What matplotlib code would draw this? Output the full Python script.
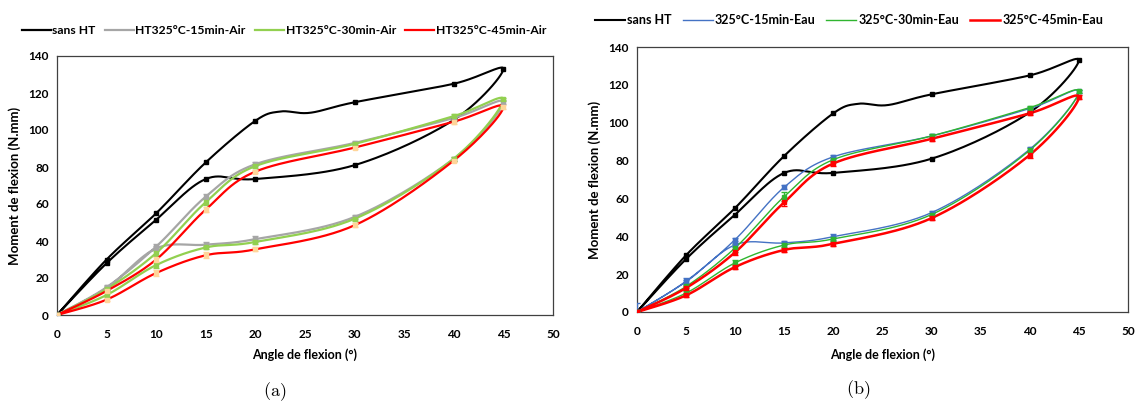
import numpy as np
import matplotlib
matplotlib.use('Agg')
import matplotlib.pyplot as plt
from matplotlib.lines import Line2D

plt.rcParams['font.family'] = ['Lato', 'DejaVu Sans']
plt.rcParams['mathtext.fontset'] = 'cm'

# angles of the loading / unloading cycle (0 -> 45 -> 0)
angles = [0, 5, 10, 15, 20, 30, 40, 45, 40, 30, 20, 15, 10, 5, 0]

# sans HT (same in both panels), with two extra points for the bump after 20°
sans_x = [0, 5, 10, 15, 20, 22.5, 25.5, 30, 40, 45, 40, 30, 20, 15, 10, 5, 0]
sans_y = [0, 30, 55, 82.5, 105, 110, 109.3, 115, 125, 133, 105.5, 81, 73.5, 73.5, 51.5, 28, 0]

# (a) air quench
air_15 = [0, 15, 37, 64, 81.5, 93, 106.5, 115, 84.5, 53, 41, 38, 36, 14.5, 0]
air_30 = [0, 14, 33.5, 61, 80.5, 92.5, 107.5, 116.5, 84.5, 52, 39.5, 36.5, 27, 10.8, 0]
air_45 = [0, 13, 30, 57, 77.5, 90.5, 104.5, 112.5, 83.5, 48.5, 35.5, 32.3, 22.7, 8.3, 0]
air_15_err = [0.5, 1, 1.5, 1.5, 1, 1, 1, 1, 1, 1, 1.5, 1.5, 1.5, 1, 0.5]
air_30_err = [0.5, 1, 1.5, 1.5, 1, 1, 1, 1, 1, 1, 1, 1, 1.5, 1, 0.5]
air_45_err = [0.5, 1, 1.5, 1.5, 1, 1, 1, 1, 1, 1, 1, 1.5, 1.5, 1, 0.5]

# (b) water quench
eau_15 = [0, 16.3, 38.3, 66, 82, 93, 107.5, 116.5, 86, 52.5, 39.8, 36.5, 35.5, 16, 0]
eau_30 = [0, 13.5, 33.9, 61, 80.5, 93, 108, 116.5, 85.5, 51.5, 38.6, 35.4, 26, 10, 0]
eau_45 = [0, 12.7, 31.6, 58, 78.5, 91.5, 105, 113.5, 83, 49.6, 36, 32.8, 23.8, 8.8, 0]
eau_15_err = [5, 1.5, 1, 1.2, 1.2, 1, 1, 1, 1, 1, 1.5, 1.2, 1, 1, 0.5]
eau_30_err = [0.5, 1, 2, 2.2, 1.2, 1, 1, 1, 1, 1, 1, 1, 1.5, 1, 0.5]
eau_45_err = [0.5, 1, 1.5, 2, 1.5, 1, 1, 1, 1.5, 1, 1, 1, 1, 1, 0.5]

labels_a = ['sans HT', 'HT325°C-15min-Air', 'HT325°C-30min-Air', 'HT325°C-45min-Air']
labels_b = ['sans HT', '325°C-15min-Eau', '325°C-30min-Eau', '325°C-45min-Eau']


def smooth(xs, ys, n=30):
    # smoothed line like the spreadsheet one: Bezier pieces with Catmull-Rom handles
    P = np.column_stack([xs, ys]).astype(float)
    out = [P[0]]
    t = np.linspace(0, 1, n)[1:, None]
    for i in range(len(P) - 1):
        p0 = P[i - 1] if i > 0 else P[i]
        p1, p2 = P[i], P[i + 1]
        p3 = P[i + 2] if i + 2 < len(P) else P[i + 1]
        c1 = p1 + (p2 - p0) / 6
        c2 = p2 - (p3 - p1) / 6
        seg = ((1 - t) ** 3) * p1 + 3 * ((1 - t) ** 2) * t * c1 + 3 * (1 - t) * t ** 2 * c2 + t ** 3 * p2
        out.extend(seg)
    out = np.array(out)
    return out[:, 0], out[:, 1]


def draw_series(ax, xs, ys, color, lw, err=None, ecolor=None, ms=3.5, mcolor=None):
    sx, sy = smooth(xs, ys)
    ax.plot(sx, sy, color=color, lw=lw, solid_capstyle='round', zorder=3)
    xs = np.array(xs, dtype=float)
    ys = np.array(ys, dtype=float)
    keep = np.mod(xs, 5) == 0
    if err is not None:
        ax.errorbar(xs[keep], ys[keep], yerr=np.array(err), fmt='none',
                    ecolor=ecolor or color, elinewidth=1, capsize=2, zorder=3)
    ax.plot(xs[keep], ys[keep], ls='none', marker='s', ms=ms,
            color=mcolor or color, zorder=4)


def setup_axes(ax, lpad):
    ax.set_xlim(0, 50)
    ax.set_ylim(0, 140)
    ax.set_xticks(range(0, 51, 5))
    ax.set_yticks(range(0, 141, 20))
    ax.tick_params(length=0, labelsize=8.5)
    ax.tick_params(axis='x', pad=10)
    ax.tick_params(axis='y', pad=6)
    for lab in ax.get_xticklabels() + ax.get_yticklabels():
        lab.set_fontweight('bold')
    for sp in ax.spines.values():
        sp.set_color('#404040')
        sp.set_linewidth(0.9)
    ax.set_xlabel('Angle de flexion (°)', fontsize=9, fontweight='bold', labelpad=lpad)
    ax.set_ylabel('Moment de flexion (N.mm)', fontsize=9.5, fontweight='bold', labelpad=5)


fig = plt.figure(figsize=(11.39, 4.05), dpi=100)
ax_a = fig.add_axes([57 / 1139, 1 - 315 / 405, 496 / 1139, 259 / 405])
ax_b = fig.add_axes([637 / 1139, 1 - 312 / 405, 491 / 1139, 265 / 405])

# panel (a)
draw_series(ax_a, sans_x, sans_y, 'black', 1.5, ms=3)
draw_series(ax_a, angles, air_15, '#a6a6a6', 1.6, air_15_err, ms=2.5)
draw_series(ax_a, angles, air_30, '#92d050', 1.6, air_30_err, ms=3)
draw_series(ax_a, angles, air_45, '#ff0000', 1.6, air_45_err, ecolor='#ffd59a', ms=2.5, mcolor='#ffd59a')
setup_axes(ax_a, 6)

# panel (b)
draw_series(ax_b, sans_x, sans_y, 'black', 1.5, ms=3)
draw_series(ax_b, angles, eau_15, '#4472c4', 1.0, eau_15_err, ms=3)
draw_series(ax_b, angles, eau_30, '#2fb52f', 1.0, eau_30_err, ms=3)
draw_series(ax_b, angles, eau_45, '#ff0000', 1.8, eau_45_err, ms=3)
setup_axes(ax_b, 8)

cols_a = ['black', '#a6a6a6', '#92d050', '#ff0000']
cols_b = ['black', '#4472c4', '#2fb52f', '#ff0000']
lws_b = [1.5, 1.0, 1.0, 1.8]

h_a = [Line2D([], [], color=c, lw=1.6) for c in cols_a]
h_b = [Line2D([], [], color=c, lw=w) for c, w in zip(cols_b, lws_b)]

fig.legend(h_a, labels_a, loc='center', bbox_to_anchor=(284 / 1139, 1 - 31 / 405), ncol=4,
           frameon=False, prop={'weight': 'bold', 'size': 8.7}, handlelength=2.4,
           handletextpad=0.15, columnspacing=0.75)
fig.legend(h_b, labels_b, loc='center', bbox_to_anchor=(849 / 1139, 1 - 20 / 405), ncol=4,
           frameon=False, prop={'weight': 'bold', 'size': 9}, handlelength=2.4,
           handletextpad=0.15, columnspacing=0.9)

fig.text(275 / 1139, 1 - 392 / 405, r'$\mathrm{(a)}$', ha='center', va='center', fontsize=13)
fig.text(858 / 1139, 1 - 390 / 405, r'$\mathrm{(b)}$', ha='center', va='center', fontsize=13)

fig.savefig('out.png', dpi=100, facecolor='white')
